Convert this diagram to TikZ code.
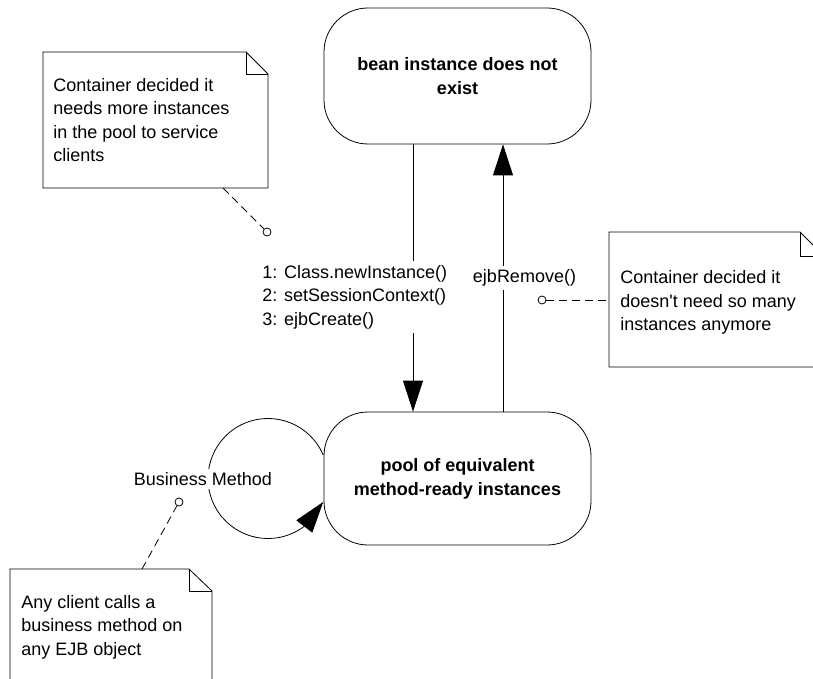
\documentclass[tikz,border=0pt]{standalone}
\usepackage{fontspec}
\setmainfont{Liberation Sans}[Ligatures=TeXOff]
\usetikzlibrary{arrows.meta,bending}
\begin{document}
\begin{tikzpicture}[x=1pt,y=-1pt, line width=0.8pt,
  every node/.style={font=\fontsize{18}{23.5}\selectfont},
  state/.style={draw, rounded corners=44pt, minimum width=267pt, minimum height=136pt,
    align=center, font=\fontsize{18}{24}\selectfont\bfseries, inner sep=0pt},
  notetext/.style={anchor=north west, align=left, inner sep=0pt},
  notebox/.style={draw, fill=white},
  pin/.style={draw, circle, fill=white, minimum size=8pt, inner sep=0pt},
  conn/.style={dash pattern=on 8pt off 5pt},
  lab/.style={fill=white, inner sep=4pt},
  tip/.style={-{Triangle[length=31pt,width=20pt]}}]
\useasboundingbox (0,0) rectangle (813,679);
\clip (0,0) rectangle (813,679);

% states
\node[state] (top) at (457.5,76) {bean instance does not\\exist};
\node[state, minimum height=133pt] (pool) at (457.5,478.5) {pool of equivalent\\method-ready instances};

% transitions
\draw[tip] ([xshift=-44.5pt]top.south) -- ([xshift=-44.5pt]pool.north);
\draw[tip] ([xshift=45.5pt]pool.north) -- ([xshift=45.5pt]top.south);
\node[lab, anchor=north west, align=left] (calls) at (258,261)
  {1: Class.newInstance()\\2: setSessionContext()\\3: ejbCreate()};
\node[lab] (rem) at (524.5,278) {ejbRemove()};

% self loop
\draw[tip] (268,478.5) ++(-23:60) arc[start angle=-23, end angle=-337, radius=60];
\node[lab, inner sep=3pt] (bm) at (203,479) {Business Method};

% note 1
\draw[notebox] (43,52) -- (246,52) -- (268,74) -- (268,188) -- (43,188) -- cycle;
\draw (246,52) -- (246,74) -- (268,74);
\node[notetext] (n1) at (53,78) {Container decided it\\needs more instances\\in the pool to service\\clients};
\coordinate (n1a) at (223,188);

% note 2
\draw[notebox] (609,232) -- (800,232) -- (824,256) -- (824,367) -- (609,367) -- cycle;
\draw (800,232) -- (800,256) -- (824,256);
\node[notetext] (n2) at (620,270.5) {Container decided it\\doesn't need so many\\instances anymore};
\coordinate (n2a) at (609,300);

% note 3
\draw[notebox] (10,569) -- (189,569) -- (212,591) -- (212,700) -- (10,700) -- cycle;
\draw (189,569) -- (189,591) -- (212,591);
\node[notetext] (n3) at (21,595) {Any client calls a\\business method on\\any EJB object};
\coordinate (n3a) at (142,569);

% pins
\node[pin] (p1) at (267,232) {};
\node[pin] (p2) at (542,300) {};
\node[pin] (p3) at (179,502) {};
\draw[conn] (n1a) -- (p1);
\draw[conn] (p2) -- (n2a);
\draw[conn] (n3a) -- (p3);
\end{tikzpicture}
\end{document}
